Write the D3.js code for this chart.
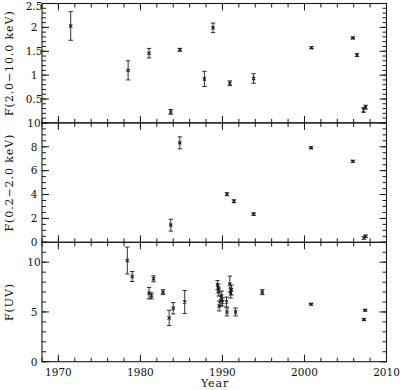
<!DOCTYPE html>
<html>
<head>
<meta charset="utf-8">
<script src="https://cdn.jsdelivr.net/npm/d3@7"></script>
<style>
  body { margin: 0; background: #fff; }
  text { font-family: "DejaVu Serif", serif; fill: #111; }
</style>
</head>
<body>
<svg id="chart" width="400" height="390"></svg>
<script>
// F(2.0-10.0 keV)
var hardYears = [1971.5, 1978.5, 1981.05, 1983.7, 1984.8, 1987.8, 1988.85, 1990.9, 1993.8, 2000.85, 2005.9, 2006.4, 2007.2, 2007.45]
var hardFlux  = [2.03, 1.10, 1.46, 0.23, 1.53, 0.92, 1.99, 0.83, 0.93, 1.575, 1.78, 1.42, 0.27, 0.33]
var hardErr   = [0.30, 0.20, 0.10, 0.05, 0.03, 0.16, 0.10, 0.05, 0.10, 0.02, 0.02, 0.03, 0.05, 0.04]

// F(0.2-2.0 keV)
var softYears = [1983.7, 1984.8, 1990.55, 1991.4, 1993.8, 2000.8, 2005.9, 2007.25, 2007.45]
var softFlux  = [1.44, 8.33, 4.03, 3.44, 2.36, 7.92, 6.78, 0.36, 0.5]
var softErr   = [0.5, 0.5, 0.12, 0.12, 0.1, 0.08, 0.08, 0.1, 0.1]

// F(UV)
var uvYears = [1978.4, 1979.0, 1981.05, 1981.35, 1981.6, 1982.75, 1983.5, 1984.0, 1985.4,
               1989.4, 1989.5, 1989.55, 1989.6, 1989.8, 1989.9, 1990.0, 1990.5, 1990.55, 1990.9, 1991.0, 1991.1, 1991.6,
               1994.85, 2000.8, 2007.25, 2007.4]
var uvFlux  = [10.17, 8.56, 6.89, 6.62, 8.33, 6.99, 4.40, 5.37, 6.0,
               7.7, 7.4, 7.0, 5.6, 6.1, 6.6, 6.0, 6.0, 5.0, 7.8, 6.9, 7.2, 5.0,
               6.99, 5.78, 4.23, 5.17]
var uvErr   = [1.35, 0.5, 0.57, 0.3, 0.3, 0.25, 0.77, 0.57, 1.15,
               0.45, 0.4, 0.4, 0.5, 0.5, 0.5, 0.4, 0.5, 0.4, 0.8, 0.5, 0.5, 0.4,
               0.25, 0.08, 0.08, 0.08]

var yearTicks = [1970, 1980, 1990, 2000, 2010]

var panels = [
  {label: "F(2.0\u221210.0 keV)", years: hardYears, flux: hardFlux, err: hardErr,
   domain: [0, 2.5], major: [0.5, 1, 1.5, 2, 2.5], minorStep: 0.1},
  {label: "F(0.2\u22122.0 keV)", years: softYears, flux: softFlux, err: softErr,
   domain: [0, 10], major: [0, 2, 4, 6, 8, 10], minorStep: 0.5},
  {label: "F(UV)", years: uvYears, flux: uvFlux, err: uvErr,
   domain: [0, 12], major: [0, 5, 10], minorStep: 1}
]

var left = 42, right = 386.5, top0 = 3.5, ph = 119.4
var ink = "#1a1a1a"
var svg = d3.select("#chart")

var x = d3.scaleLinear().domain([1968, 2010]).range([left, right])
var minorYears = d3.range(1968, 2010.1, 2)

panels.forEach(function(p, i) {
  var y0 = top0 + i * ph
  var y = d3.scaleLinear().domain(p.domain).range([y0 + ph, y0])
  var g = svg.append("g")
  var minors = d3.range(p.domain[0], p.domain[1] + 1e-9, p.minorStep)

  // y ticks, left and right, pointing inward
  function yTicks(vals, len) {
    vals.forEach(function(v) {
      g.append("line").attr("x1", left).attr("x2", left + len)
        .attr("y1", y(v)).attr("y2", y(v)).attr("stroke", ink)
      g.append("line").attr("x1", right).attr("x2", right - len)
        .attr("y1", y(v)).attr("y2", y(v)).attr("stroke", ink)
    })
  }
  yTicks(minors, 4)
  yTicks(p.major, 7)

  // x ticks top and bottom
  function xTicks(vals, len) {
    vals.forEach(function(v) {
      g.append("line").attr("x1", x(v)).attr("x2", x(v))
        .attr("y1", y0).attr("y2", y0 + len).attr("stroke", ink)
      g.append("line").attr("x1", x(v)).attr("x2", x(v))
        .attr("y1", y0 + ph).attr("y2", y0 + ph - len).attr("stroke", ink)
    })
  }
  xTicks(minorYears, 4)
  xTicks(yearTicks, 7)

  g.append("rect").attr("x", left).attr("y", y0).attr("width", right - left).attr("height", ph)
    .attr("fill", "none").attr("stroke", ink).attr("stroke-width", 1.1)

  // tick labels (top panel skips 0, it would sit on the 10 below)
  g.selectAll(".yl").data(p.major).enter().append("text")
    .attr("x", 34).attr("y", function(d) { return Math.max(y(d) + 3.8, 10.2) })
    .attr("text-anchor", "middle").attr("font-size", 10.5)
    .text(function(d) { return d })

  g.append("text")
    .attr("transform", "translate(13," + (y0 + ph / 2) + ") rotate(-90)")
    .attr("text-anchor", "middle").attr("font-size", 11).attr("letter-spacing", 0.9)
    .text(p.label)

  // data with error bars
  var pts = p.years.map(function(yr, k) { return {x: yr, v: p.flux[k], e: p.err[k]} })
  var pg = g.selectAll(".pt").data(pts).enter().append("g")
    .attr("transform", function(d) { return "translate(" + x(d.x) + ",0)" })
    .attr("stroke", ink).attr("stroke-width", 0.9).attr("fill", "none")
  pg.append("line").attr("x1", 0).attr("x2", 0)
    .attr("y1", function(d) { return y(d.v + d.e) }).attr("y2", function(d) { return y(d.v - d.e) })
  pg.append("line").attr("x1", -2.2).attr("x2", 2.2)
    .attr("y1", function(d) { return y(d.v + d.e) }).attr("y2", function(d) { return y(d.v + d.e) })
  pg.append("line").attr("x1", -2.2).attr("x2", 2.2)
    .attr("y1", function(d) { return y(d.v - d.e) }).attr("y2", function(d) { return y(d.v - d.e) })
  pg.append("path")
    .attr("d", function(d) { var c = y(d.v); return "M-1.6," + (c - 1.6) + "L1.6," + (c + 1.6) + "M-1.6," + (c + 1.6) + "L1.6," + (c - 1.6) })
    .attr("stroke-width", 1.1)
})

// year labels under the bottom panel
var bottom = top0 + 3 * ph
svg.selectAll(".xl").data(yearTicks).enter().append("text")
  .attr("x", function(d) { return x(d) }).attr("y", bottom + 14.5)
  .attr("text-anchor", "middle").attr("font-size", 10.5)
  .text(function(d) { return d })

svg.append("text").attr("x", 215).attr("y", 387)
  .attr("text-anchor", "middle").attr("font-size", 11).attr("letter-spacing", 0.9)
  .text("Year")
</script>
</body>
</html>
